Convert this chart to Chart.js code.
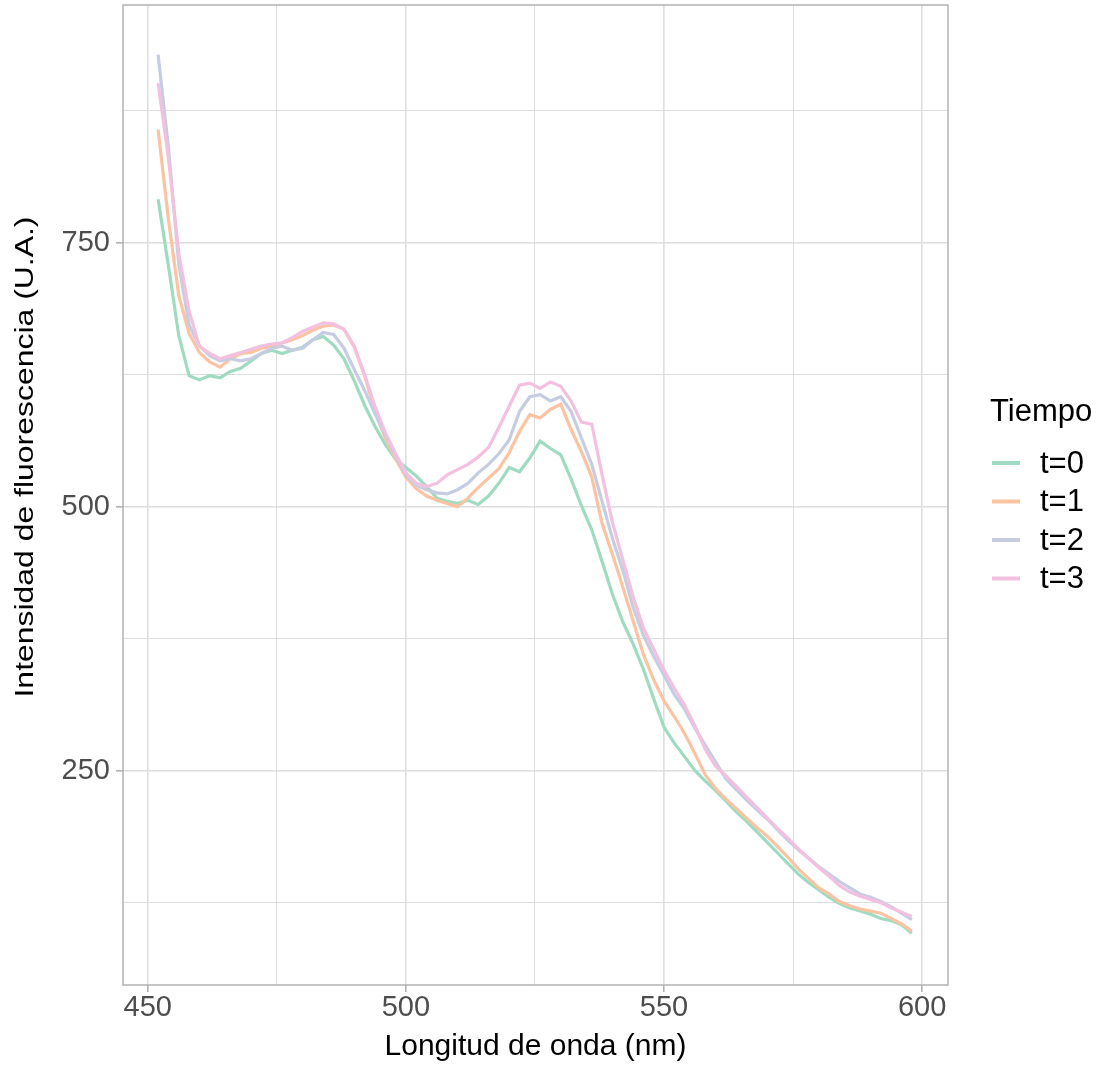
<!DOCTYPE html>
<html>
<head>
<meta charset="utf-8">
<script src="https://cdn.jsdelivr.net/npm/chart.js@4"></script>
<style>
  body { margin: 0; background: #fff; }
</style>
</head>
<body>
<canvas id="myChart" width="1100" height="1066"></canvas>
<script>
// longitud de onda (nm)
const longitudes = [452,454,456,458,460,462,464,466,468,470,472,474,476,478,480,482,484,486,488,490,
  492,494,496,498,500,502,504,506,508,510,512,514,516,518,520,522,524,526,528,530,
  532,534,536,538,540,542,544,546,548,550,552,554,556,558,560,562,564,566,568,570,
  572,574,576,578,580,582,584,586,588,590,592,594,596,598];

const t0 = [791,728,662,624,620,624,622,628,631,638,645,648,645,648,651,658,661,653,640,619,
  596,576,559,545,537,529,519,508,505,503,506,502,510,522,537,533,546,562,555,549,
  526,501,478,448,417,391,370,346,318,291,276,263,250,240,231,221,211,202,192,182,
  172,162,152,144,137,130,124,120,117,114,110,108,104,96];

const t1 = [857,772,700,664,646,637,632,640,645,646,650,652,655,658,662,667,671,672,668,651,
  624,590,565,545,528,517,510,506,503,500,508,518,527,536,551,571,587,584,592,597,
  573,552,528,484,455,424,392,360,336,316,301,285,266,246,233,223,214,205,196,188,
  178,168,157,148,139,133,126,122,119,117,115,110,105,98];

const t2 = [928,840,730,672,652,643,638,640,638,640,645,650,652,648,650,658,665,663,650,630,
  610,588,568,548,530,520,516,513,512,516,522,532,540,550,563,590,604,606,600,604,
  590,565,540,505,470,440,405,378,358,340,322,308,290,274,258,242,232,222,213,204,
  194,184,175,167,159,152,145,139,133,130,126,121,115,109];

const t3 = [901,830,740,685,652,645,640,643,646,649,652,654,655,660,666,670,674,673,668,652,
  625,595,570,550,532,522,519,522,530,535,540,547,556,575,595,615,617,612,618,614,
  600,580,578,530,485,450,415,385,365,345,328,312,292,270,254,245,235,225,215,205,
  195,186,176,167,158,150,141,135,131,128,125,120,116,112];

const series = [t0, t1, t2, t3];
const seriesNames = ['t=0', 't=1', 't=2', 't=3'];
const colores = ['#9fdbc0', '#fcc3a3', '#c6cde2', '#f3c0df'];

const xMajor = [450, 500, 550, 600];
const xMinor = [475, 525, 575];
const yMajor = [250, 500, 750];
const yMinor = [125, 375, 625, 875];

const fuente = "'Liberation Sans', Arial, sans-serif";
const gridColor = '#dedede';
const tickColor = '#b3b3b3';

function isMajor(list, v) { return list.indexOf(v) !== -1; }

// panel border, axis titles and legend (drawn like ggplot's theme_light)
const extras = {
  id: 'extras',
  afterDraw(chart) {
    const ctx = chart.ctx;
    const a = chart.chartArea;
    ctx.save();
    ctx.strokeStyle = tickColor;
    ctx.lineWidth = 1.5;
    ctx.strokeRect(a.left, a.top, a.right - a.left, a.bottom - a.top);

    ctx.fillStyle = '#000';
    // x title
    ctx.font = '30px ' + fuente;
    ctx.textAlign = 'center';
    ctx.textBaseline = 'middle';
    ctx.fillText('Longitud de onda (nm)', (a.left + a.right) / 2, 1047);

    // y title (stretched along its length like the reference)
    const yTitle = 'Intensidad de fluorescencia (U.A.)';
    ctx.save();
    ctx.translate(33, 457);
    ctx.rotate(-Math.PI / 2);
    ctx.font = '26px ' + fuente;
    ctx.textBaseline = 'alphabetic';
    const w = ctx.measureText(yTitle).width;
    ctx.scale(481 / w, 1);
    ctx.fillText(yTitle, 0, 0);
    ctx.restore();

    // legend
    ctx.textAlign = 'left';
    ctx.textBaseline = 'middle';
    ctx.font = '31px ' + fuente;
    ctx.fillText('Tiempo', 990, 412);
    chart.data.datasets.forEach((ds, i) => {
      const y = 463 + i * 38.5;
      ctx.strokeStyle = ds.borderColor;
      ctx.lineWidth = 4;
      ctx.beginPath();
      ctx.moveTo(992, y);
      ctx.lineTo(1020, y);
      ctx.stroke();
      ctx.fillStyle = '#000';
      ctx.fillText(ds.label, 1040, y + 1);
    });
    ctx.restore();
  }
};

const ctx = document.getElementById('myChart');

new Chart(ctx, {
  type: 'line',
  data: {
    datasets: series.map((s, i) => ({
      label: seriesNames[i],
      data: longitudes.map((x, j) => ({ x: x, y: s[j] })),
      borderColor: colores[i],
      backgroundColor: colores[i],
      borderWidth: 3.2,
      pointRadius: 0,
      tension: 0,
      fill: false,
      order: 3 - i
    }))
  },
  options: {
    responsive: false,
    animation: false,
    layout: { padding: { top: 5, right: 152, left: 0, bottom: 0 } },
    plugins: {
      legend: { display: false },
      tooltip: { enabled: false }
    },
    scales: {
      x: {
        type: 'linear',
        min: 445.2,
        max: 605,
        afterBuildTicks: s => { s.ticks = xMajor.concat(xMinor).sort((p, q) => p - q).map(v => ({ value: v })); },
        afterFit: s => { s.height = 81; s.paddingLeft = 0; s.paddingRight = 0; },
        border: { display: false },
        grid: {
          color: gridColor,
          lineWidth: c => isMajor(xMajor, c.tick.value) ? 1.6 : 1,
          tickColor: c => isMajor(xMajor, c.tick.value) ? tickColor : 'rgba(0,0,0,0)',
          tickLength: 7
        },
        ticks: {
          autoSkip: false,
          maxRotation: 0,
          padding: 1,
          color: '#4d4d4d',
          font: { family: fuente, size: 29, lineHeight: 1 },
          callback: v => isMajor(xMajor, v) ? String(v) : ''
        }
      },
      y: {
        type: 'linear',
        min: 47,
        max: 975,
        afterBuildTicks: s => { s.ticks = yMajor.concat(yMinor).sort((p, q) => p - q).map(v => ({ value: v })); },
        afterFit: s => { s.width = 123; s.paddingTop = 0; s.paddingBottom = 0; },
        border: { display: false },
        grid: {
          color: gridColor,
          lineWidth: c => isMajor(yMajor, c.tick.value) ? 1.6 : 1,
          tickColor: c => isMajor(yMajor, c.tick.value) ? tickColor : 'rgba(0,0,0,0)',
          tickLength: 7
        },
        ticks: {
          autoSkip: false,
          padding: 6,
          color: '#4d4d4d',
          font: { family: fuente, size: 29 },
          callback: v => isMajor(yMajor, v) ? String(v) : ''
        }
      }
    }
  },
  plugins: [extras]
});
</script>
</body>
</html>
